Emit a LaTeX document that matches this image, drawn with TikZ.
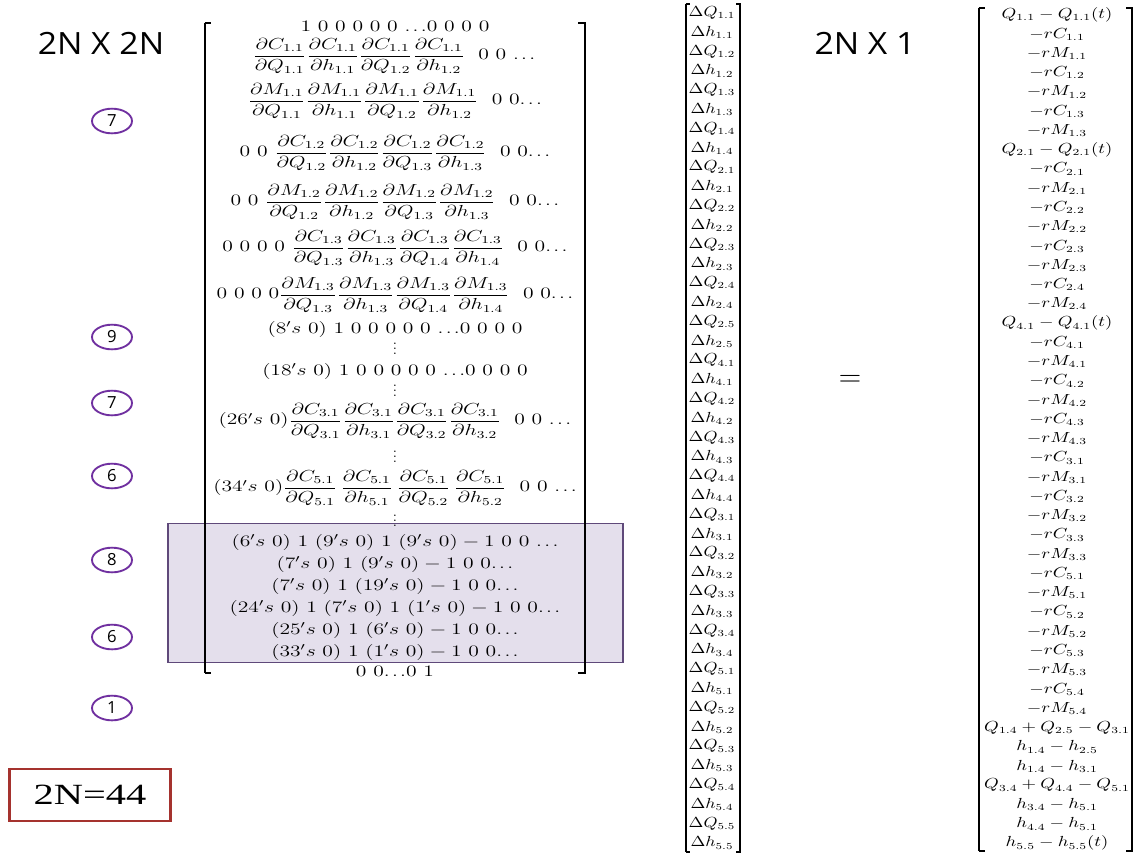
\documentclass[tikz,border=0pt]{standalone}
\usepackage{amsmath}
\usepackage{graphicx}
\usepackage{fontspec}
\usetikzlibrary{shapes.geometric}
\newfontfamily\labsans{Open Sans}
\newfontfamily\labserif{Liberation Serif}
\newcommand{\sx}[1]{\scalebox{1.35}[1]{#1}}
\newcommand{\pd}[2]{\dfrac{\partial #1}{\partial #2}}
\newcommand{\dts}{\mathord{.\kern1.3pt.\kern1.3pt.}}
\newcommand{\vdt}{\vbox{\baselineskip3.6pt\lineskiplimit0pt\hbox{.}\hbox{.}\hbox{.}}}
\definecolor{circpurple}{HTML}{7030A0}
\definecolor{boxfill}{HTML}{E4DFEC}
\definecolor{boxline}{HTML}{5F497A}
\definecolor{nbred}{HTML}{A5322E}
\begin{document}
\begin{tikzpicture}[x=0.75pt,y=-0.75pt,
  mtx/.style={inner sep=0pt, font=\fontsize{11.5}{13.8}\selectfont},
  vec/.style={inner sep=0pt, font=\fontsize{10.5}{12.5}\selectfont},
  circ/.style={draw=circpurple, line width=1.4pt, ellipse, minimum width=30pt, minimum height=18.5pt, inner sep=0pt, font=\labsans\fontsize{12.5}{14}\selectfont},
  brk/.style={line width=1.8pt},
  tick/.style={line width=0.8pt},
  title/.style={inner sep=0pt, font=\labsans\fontsize{23}{27}\selectfont}]
\fill[white] (0,0) rectangle (1139,858);
\useasboundingbox (0,0) rectangle (1139,858);

% titles
\node[title] (t1) at (101,43) {\scalebox{1.1}[1]{2N X 2N}};
\node[title] (t2) at (865,43) {\scalebox{1.1}[1]{2N X 1}};

% highlighted block
\node[draw=boxline, fill=boxfill, line width=1.1pt, inner sep=0pt, minimum width=341pt, minimum height=104pt] (hbox) at (395.5,593) {};

% matrix brackets
\draw[brk] (205,23) -- (205,673);
\draw[tick] (204.5,23) -- (211,23);
\draw[tick] (204.5,673) -- (211,673);
\draw[brk] (585,23) -- (585,673);
\draw[tick] (578,23) -- (585.5,23);
\draw[tick] (578,673) -- (585.5,673);

% matrix rows
\node[mtx] (m1) at (395,26) {\sx{$1\ 0\ 0\ 0\ 0\ 0\ \dts0\ 0\ 0\ 0$}};
\node[mtx] (m2) at (394,56) {\sx{$\pd{C_{1.1}}{Q_{1.1}}\pd{C_{1.1}}{h_{1.1}}\pd{C_{1.1}}{Q_{1.2}}\pd{C_{1.1}}{h_{1.2}}\ \ 0\ 0\ \dts$}};
\node[mtx] (m3) at (395,101) {\sx{$\pd{M_{1.1}}{Q_{1.1}}\pd{M_{1.1}}{h_{1.1}}\pd{M_{1.1}}{Q_{1.2}}\pd{M_{1.1}}{h_{1.2}}\ \ 0\ 0\dts$}};
\node[mtx] (m4) at (395,153) {\sx{$0\ 0\ \pd{C_{1.2}}{Q_{1.2}}\pd{C_{1.2}}{h_{1.2}}\pd{C_{1.2}}{Q_{1.3}}\pd{C_{1.2}}{h_{1.3}}\ \ 0\ 0\dts$}};
\node[mtx] (m5) at (395,202) {\sx{$0\ 0\ \pd{M_{1.2}}{Q_{1.2}}\pd{M_{1.2}}{h_{1.2}}\pd{M_{1.2}}{Q_{1.3}}\pd{M_{1.2}}{h_{1.3}}\ \ 0\ 0\dts$}};
\node[mtx] (m6) at (395,248) {\sx{$0\ 0\ 0\ 0\ \pd{C_{1.3}}{Q_{1.3}}\pd{C_{1.3}}{h_{1.3}}\pd{C_{1.3}}{Q_{1.4}}\pd{C_{1.3}}{h_{1.4}}\ \ 0\ 0\dts$}};
\node[mtx] (m7) at (395,295) {\sx{$0\ 0\ 0\ 0\pd{M_{1.3}}{Q_{1.3}}\pd{M_{1.3}}{h_{1.3}}\pd{M_{1.3}}{Q_{1.4}}\pd{M_{1.3}}{h_{1.4}}\ \ 0\ 0\dts$}};
\node[mtx] (m8) at (395,329) {\sx{$(8's\ 0)\ 1\ 0\ 0\ 0\ 0\ 0\ \dts0\ 0\ 0\ 0$}};
\node[mtx] (d1) at (395,349) {\vdt};
\node[mtx] (m9) at (395,371) {\sx{$(18's\ 0)\ 1\ 0\ 0\ 0\ 0\ 0\ \dts0\ 0\ 0\ 0$}};
\node[mtx] (d2) at (395,391) {\vdt};
\node[mtx] (m10) at (395,421) {\sx{$(26's\ 0)\pd{C_{3.1}}{Q_{3.1}}\pd{C_{3.1}}{h_{3.1}}\pd{C_{3.1}}{Q_{3.2}}\pd{C_{3.1}}{h_{3.2}}\ \ 0\ 0\ \dts$}};
\node[mtx] (d3) at (395,457) {\vdt};
\node[mtx] (m11) at (395,488) {\sx{$(34's\ 0)\pd{C_{5.1}}{Q_{5.1}}\,\pd{C_{5.1}}{h_{5.1}}\,\pd{C_{5.1}}{Q_{5.2}}\,\pd{C_{5.1}}{h_{5.2}}\ \ 0\ 0\ \dts$}};
\node[mtx] (d4) at (395,521) {\vdt};
\node[mtx] (m12) at (395,542) {\sx{$(6's\ 0)\ 1\ (9's\ 0)\ 1\ (9's\ 0)-1\ 0\ 0\ \dts$}};
\node[mtx] (m13) at (395,564) {\sx{$(7's\ 0)\ 1\ (9's\ 0)-1\ 0\ 0\dts$}};
\node[mtx] (m14) at (395,586) {\sx{$(7's\ 0)\ 1\ (19's\ 0)-1\ 0\ 0\dts$}};
\node[mtx] (m15) at (395,608) {\sx{$(24's\ 0)\ 1\ (7's\ 0)\ 1\ (1's\ 0)-1\ 0\ 0\dts$}};
\node[mtx] (m16) at (395,630) {\sx{$(25's\ 0)\ 1\ (6's\ 0)-1\ 0\ 0\dts$}};
\node[mtx] (m17) at (395,652) {\sx{$(33's\ 0)\ 1\ (1's\ 0)-1\ 0\ 0\dts$}};
\node[mtx] (m18) at (395,671) {\sx{$0\ 0\dts0\ 1$}};

% circled counts
\node[circ] (c1) at (112,121) {7};
\node[circ] (c2) at (112,337) {9};
\node[circ] (c3) at (112,403) {7};
\node[circ] (c4) at (112,476) {6};
\node[circ] (c5) at (112,560) {8};
\node[circ] (c6) at (112,637) {6};
\node[circ] (c7) at (112,708) {1};

% 2N=44 box
\node[draw=nbred, line width=1.8pt, minimum width=121pt, minimum height=39pt, inner sep=0pt, font=\labserif\fontsize{22}{26}\selectfont] (nbox) at (90,795) {\scalebox{1.38}[1]{2N=44}};

% unknown vector
\draw[brk] (686,4) -- (686,852);
\draw[tick] (685.5,4) -- (690,4);
\draw[tick] (685.5,852) -- (690,852);
\draw[brk] (740,4) -- (740,852);
\draw[tick] (736,4) -- (740.5,4);
\draw[tick] (736,852) -- (740.5,852);
\foreach \t [count=\i from 0] in {Q_{1.1},h_{1.1},Q_{1.2},h_{1.2},Q_{1.3},h_{1.3},Q_{1.4},h_{1.4},Q_{2.1},h_{2.1},Q_{2.2},h_{2.2},Q_{2.3},h_{2.3},Q_{2.4},h_{2.4},Q_{2.5},h_{2.5},Q_{4.1},h_{4.1},Q_{4.2},h_{4.2},Q_{4.3},h_{4.3},Q_{4.4},h_{4.4},Q_{3.1},h_{3.1},Q_{3.2},h_{3.2},Q_{3.3},h_{3.3},Q_{3.4},h_{3.4},Q_{5.1},h_{5.1},Q_{5.2},h_{5.2},Q_{5.3},h_{5.3},Q_{5.4},h_{5.4},Q_{5.5},h_{5.5}}
  \node[vec] (v\i) at (712,{13+19.3*\i}) {\scalebox{1.22}[1]{$\Delta \t$}};

% equals
\node[inner sep=0pt, font=\fontsize{19}{22}\selectfont] (eq) at (850,381) {\scalebox{1.35}[1.35]{$=$}};

% right-hand vector
\draw[brk] (979,8) -- (979,851);
\draw[tick] (978.5,8) -- (985,8);
\draw[tick] (978.5,851) -- (985,851);
\draw[brk] (1132,8) -- (1132,851);
\draw[tick] (1126,8) -- (1132.5,8);
\draw[tick] (1126,851) -- (1132.5,851);
\foreach \t [count=\i from 0] in {{Q_{1.1}-Q_{1.1}(t)},-rC_{1.1},-rM_{1.1},-rC_{1.2},-rM_{1.2},-rC_{1.3},-rM_{1.3},{Q_{2.1}-Q_{2.1}(t)},-rC_{2.1},-rM_{2.1},-rC_{2.2},-rM_{2.2},-rC_{2.3},-rM_{2.3},-rC_{2.4},-rM_{2.4},{Q_{4.1}-Q_{4.1}(t)},-rC_{4.1},-rM_{4.1},-rC_{4.2},-rM_{4.2},-rC_{4.3},-rM_{4.3},-rC_{3.1},-rM_{3.1},-rC_{3.2},-rM_{3.2},-rC_{3.3},-rM_{3.3},-rC_{5.1},-rM_{5.1},-rC_{5.2},-rM_{5.2},-rC_{5.3},-rM_{5.3},-rC_{5.4},-rM_{5.4},{Q_{1.4}+Q_{2.5}-Q_{3.1}},{h_{1.4}-h_{2.5}},{h_{1.4}-h_{3.1}},{Q_{3.4}+Q_{4.4}-Q_{5.1}},{h_{3.4}-h_{5.1}},{h_{4.4}-h_{5.1}},{h_{5.5}-h_{5.5}(t)}}
  \node[vec] (r\i) at (1057,{15+19.26*\i}) {\scalebox{1.28}[1]{$\t$}};
\end{tikzpicture}
\end{document}
